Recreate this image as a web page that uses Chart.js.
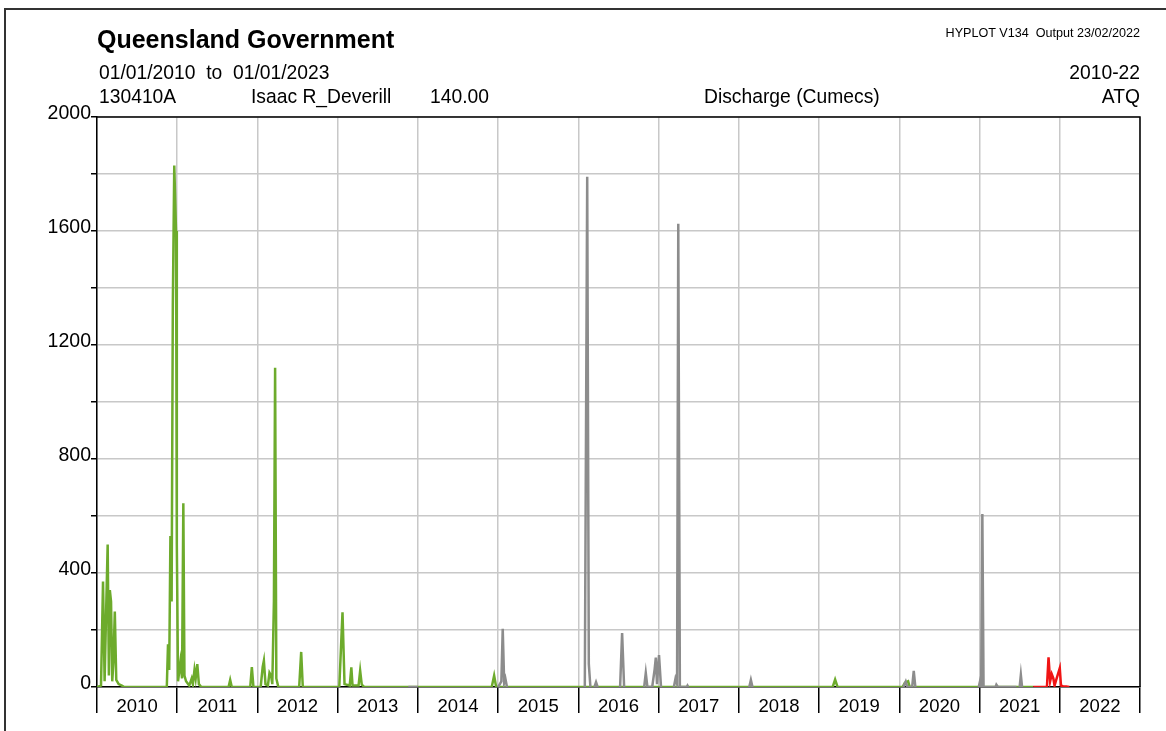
<!DOCTYPE html>
<html>
<head>
<meta charset="utf-8">
<title>Isaac R at Deverill - Discharge</title>
<script src="https://cdn.jsdelivr.net/npm/chart.js@4.4.1/dist/chart.umd.min.js"></script>
<style>
  body { margin: 0; background: #fff; font-family: "Liberation Sans", Arial, sans-serif; }
  #wrap { position: relative; width: 1166px; height: 731px; overflow: hidden; }
  #frame { position: absolute; left: 4px; top: 8px; width: 1300px; height: 900px;
           border-top: 2px solid #333; border-left: 2px solid #333; }
  #myChart { position: absolute; left: 0; top: 0; }
  .t { position: absolute; white-space: pre; color: #000; line-height: 1; font-size: 19.3px; }
  .r { text-align: right; }
</style>
</head>
<body>
<div id="wrap">
  <div id="frame"></div>
  <canvas id="myChart" width="1166" height="731"></canvas>
  <div class="t" style="left:97px;top:27px;font-size:25px;font-weight:bold;">Queensland Government</div>
  <div class="t r" style="right:26px;top:27px;font-size:12.6px;">HYPLOT V134  Output 23/02/2022</div>
  <div class="t" style="left:99px;top:63px;">01/01/2010  to  01/01/2023</div>
  <div class="t r" style="right:26px;top:63px;">2010-22</div>
  <div class="t" style="left:99px;top:87px;">130410A</div>
  <div class="t" style="left:251px;top:87px;">Isaac R_Deverill</div>
  <div class="t" style="left:430px;top:87px;">140.00</div>
  <div class="t" style="left:704px;top:87px;">Discharge (Cumecs)</div>
  <div class="t r" style="right:26px;top:87px;">ATQ</div>
</div>
<script>
// decimal year / discharge (cumecs); null breaks the line
const greenYears = [2010.000, 2010.050, 2010.075, 2010.095, 2010.115, 2010.133, 2010.148, 2010.160, 2010.175, 2010.190,
  2010.205, 2010.222, 2010.240, 2010.270, 2010.310, 2010.340, 2010.870, 2010.885, 2010.900, 2010.915,
  2010.930, 2010.945, 2010.963, 2010.985, 2010.995, 2011.010, 2011.040, 2011.060, 2011.076, 2011.090,
  2011.110, 2011.150, 2011.180, 2011.195, 2011.215, 2011.230, 2011.250, 2011.270, 2011.300, 2011.640,
  2011.660, 2011.680, 2011.910, 2011.930, 2011.950, 2012.040, 2012.065, 2012.080, 2012.100, 2012.130,
  2012.150, 2012.170, 2012.185, 2012.205, 2012.220, 2012.235, 2012.260, 2012.520, 2012.545, 2012.565,
  2013.020, 2013.060, 2013.085, 2013.150, 2013.170, 2013.185, 2013.260, 2013.280, 2013.300, 2013.330,
  2014.920, 2014.950, 2014.975, 2019.170, 2019.200, 2019.230, 2020.040, 2020.070, 2020.110, 2020.130,
  2021.670];
const greenFlow = [0, 5, 370, 20, 280, 500, 40, 340, 300, 20,
  90, 265, 25, 10, 5, 0, 0, 150, 60, 530,
  300, 1340, 1830, 1600, 500, 20, 90, 30, 645, 40,
  20, 5, 30, 10, 60, 30, 80, 10, 0, 0,
  25, 0, 0, 70, 0, 0, 70, 92, 10, 5,
  50, 40, 10, 300, 1120, 30, 0, 0, 123, 0,
  0, 262, 10, 5, 69, 5, 5, 57, 8, 0,
  0, 40, 0, 0, 26, 0, 0, 15, 20, 0,
  0];

const greyYears = [2013.880, 2014.000, 2014.001, 2015.000, 2015.040, 2015.057, 2015.075, 2015.090, 2015.110, 2015.111,
  2016.080, 2016.110, 2016.130, 2016.150, 2016.151, 2016.200, 2016.220, 2016.240, 2016.241, 2016.520,
  2016.545, 2016.570, 2016.571, 2016.820, 2016.840, 2016.860, 2016.920, 2016.950, 2016.965, 2016.980,
  2017.005, 2017.030, 2017.031, 2017.190, 2017.210, 2017.230, 2017.245, 2017.265, 2017.350, 2017.360,
  2017.370, 2017.371, 2018.130, 2018.150, 2018.170, 2018.171, 2020.050, 2020.080, 2020.100, 2020.160,
  2020.180, 2020.200, 2020.201, 2020.990, 2021.010, 2021.020, 2021.035, 2021.050, 2021.200, 2021.210,
  2021.230, 2021.460, 2021.461, 2021.500, 2021.515, 2021.530];
const greyFlow = [0, 0, null, 0, 20, 204, 15, 30, 0, null,
  0, 1790, 80, 0, null, 0, 17, 0, null, 0,
  189, 0, null, 0, 49, 0, 0, 61, 103, 10,
  112, 0, null, 0, 29, 10, 1625, 0, 0, 5,
  0, null, 0, 25, 0, null, 0, 19, 0, 0,
  57, 0, null, 0, 25, 0, 607, 0, 0, 8,
  0, 0, null, 0, 42, 0];

const redYears = [2021.670, 2021.840, 2021.860, 2021.880, 2021.900, 2021.920, 2021.935, 2021.950, 2022.000, 2022.015,
  2022.040, 2022.080, 2022.120];
const redFlow = [0, 0, 104, 20, 45, 30, 5, 20, 66, 5,
  3, 2, 0];

const yearTicks = [2010, 2011, 2012, 2013, 2014, 2015, 2016, 2017, 2018, 2019, 2020, 2021, 2022, 2023];

const toPoints = (xs, ys) => xs.map((x, i) => ({ x: x, y: ys[i] }));

const plotFrame = {
  id: 'plotFrame',
  afterDraw(chart) {
    const a = chart.chartArea;
    const c = chart.ctx;
    c.save();
    c.strokeStyle = '#000';
    c.lineWidth = 1.5;
    c.beginPath();
    c.moveTo(a.left, a.top);
    c.lineTo(a.right, a.top);
    c.lineTo(a.right, a.bottom);
    c.stroke();
    c.restore();
  }
};

const ctx = document.getElementById('myChart');
new Chart(ctx, {
  type: 'line',
  data: {
    datasets: [
      { label: 'red', data: toPoints(redYears, redFlow), borderColor: '#f01414' },
      { label: 'grey', data: toPoints(greyYears, greyFlow), borderColor: '#8c8c8c' },
      { label: 'green', data: toPoints(greenYears, greenFlow), borderColor: '#6dab2c' }
    ]
  },
  options: {
    responsive: false,
    animation: false,
    devicePixelRatio: 1,
    spanGaps: false,
    elements: {
      point: { radius: 0 },
      line: { borderWidth: 2.5, tension: 0 }
    },
    layout: { padding: { top: 117, right: 26, left: 0, bottom: 0 } },
    plugins: { legend: { display: false }, tooltip: { enabled: false } },
    scales: {
      x: {
        type: 'linear',
        min: 2010,
        max: 2023,
        afterBuildTicks: (scale) => {
          const t = [];
          yearTicks.forEach(y => {
            t.push({ value: y });
            if (y < 2023) t.push({ value: y + 0.5 });
          });
          scale.ticks = t;
        },
        afterFit: (scale) => { scale.height = 44; },
        grid: {
          color: (c) => (c.tick && c.tick.value % 1 === 0) ? '#c8c8c8' : 'rgba(0,0,0,0)',
          tickColor: (c) => (c.tick && c.tick.value % 1 === 0) ? '#000' : 'rgba(0,0,0,0)',
          tickLength: 26,
          lineWidth: 1.5
        },
        border: { color: '#000', width: 1.5 },
        ticks: {
          autoSkip: false,
          maxRotation: 0,
          padding: -17,
          color: '#000',
          font: { family: '"Liberation Sans", Arial, sans-serif', size: 18.5 },
          callback: (v) => (v % 1 === 0.5) ? String(Math.floor(v)) : ''
        }
      },
      y: {
        min: 0,
        max: 2000,
        afterFit: (scale) => { scale.width = 97; },
        grid: { color: '#c8c8c8', tickColor: '#000', tickLength: 6, lineWidth: 1.5 },
        border: { color: '#000', width: 1.5 },
        ticks: {
          stepSize: 200,
          padding: 0,
          labelOffset: -3,
          color: '#000',
          font: { family: '"Liberation Sans", Arial, sans-serif', size: 19.5 },
          callback: (v) => (v % 400 === 0) ? String(v) : ''
        }
      }
    }
  },
  plugins: [plotFrame]
});
</script>
</body>
</html>
